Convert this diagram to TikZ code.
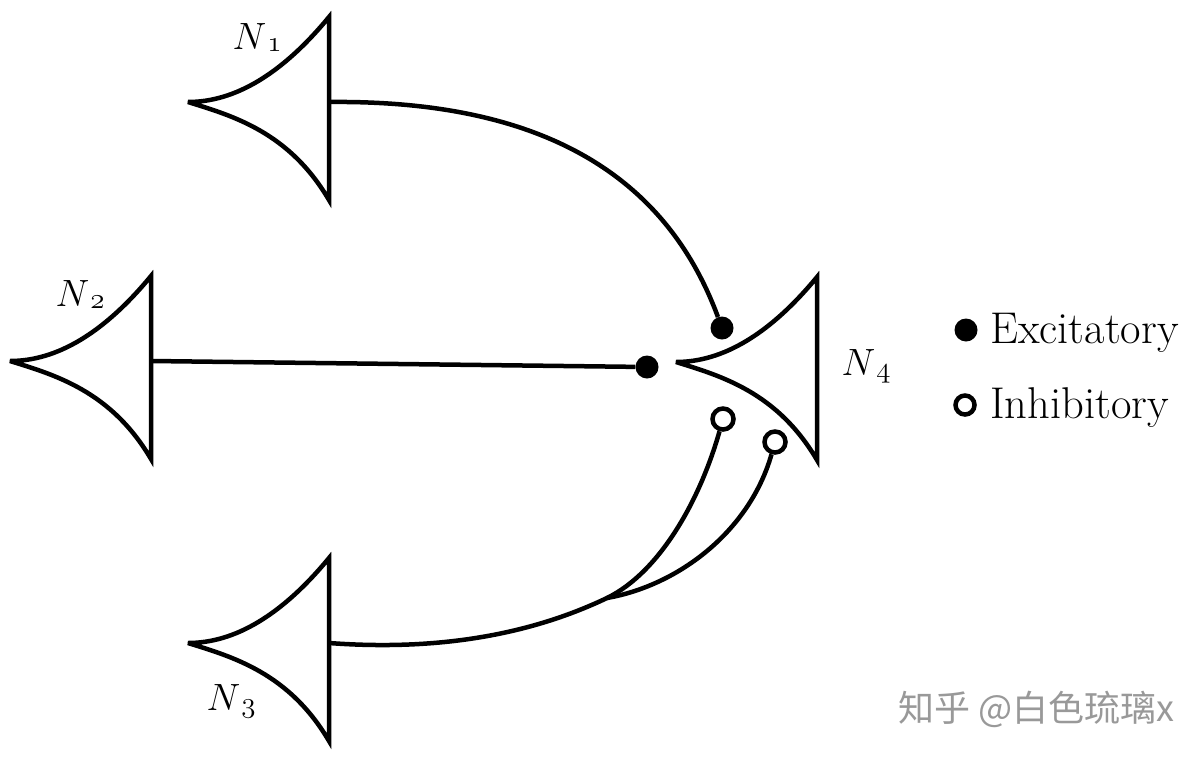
\documentclass[tikz,border=0pt]{standalone}
\usepackage{fix-cm}
\usepackage{fontspec}
\newfontfamily\cjkwm{Noto Sans CJK SC}
\newcommand\nlab[1]{$N$\kern1pt\raisebox{-2pt}{\fontsize{29}{32}\usefont{OML}{cmm}{m}{it}#1}}
\begin{document}
\begin{tikzpicture}[x=1pt,y=-1pt,
  neuronline/.style={line width=4.5pt, line join=miter, miter limit=4},
  conn/.style={line width=4.5pt},
  exc/.style={circle, fill=black, minimum size=23pt, inner sep=0pt},
  inh/.style={circle, draw=black, line width=4.5pt, fill=white, minimum size=21pt, inner sep=0pt},
  lbl/.style={font=\fontsize{38}{42}\selectfont, inner sep=0pt},
  legtext/.style={font=\fontsize{44.5}{50}\selectfont, inner sep=0pt, anchor=base west},
  neuron/.pic={
    \coordinate (-tip) at (0,0);
    \coordinate (-top) at (141,-85);
    \coordinate (-bot) at (141,98);
    \coordinate (-back) at (141,0);
    \draw[neuronline] (-tip) .. controls (47,0) and (94,-28) .. (-top)
                     -- (-bot) .. controls (101,30) and (45,14) .. cycle;
  }]
\useasboundingbox (0,0) rectangle (1204,758);

% neurons
\pic (N1) at (188,102) {neuron};
\pic (N2) at (10,361) {neuron};
\pic (N3) at (188,643) {neuron};
\pic (N4) at (676,362) {neuron};

% labels
\node[lbl] (l1) at (257,38) {\nlab{1}};
\node[lbl] (l2) at (80,295) {\nlab{2}};
\node[lbl] (l3) at (231,701) {\nlab{3}};
\node[lbl] (l4) at (866,366) {\nlab{4}};

% synapses
\node[exc] (d1) at (722,328) {};
\node[exc] (d2) at (647,367) {};
\node[inh] (c1) at (723,419) {};
\node[inh] (c2) at (775,442) {};
\coordinate (br) at (607,598);

% connectors
\draw[conn] (N1-back) .. controls (520,100) and (660,160) .. (d1);
\draw[conn] (N2-back) -- (d2);
\draw[conn] (N3-back) .. controls (450,652) and (540,630) .. (br)
                     .. controls (660,572) and (700,500) .. (c1);
\draw[conn] (br) .. controls (680,585) and (750,530) .. (c2);

% legend
\node[exc] (le) at (966,330) {};
\node[legtext] (lt1) at (990,343) {Excitatory};
\node[inh, minimum size=19pt] (li) at (965,405) {};
\node[legtext] (lt2) at (990,418) {Inhibitory};

% watermark
\node[font=\cjkwm\fontsize{36}{40}\selectfont, text=black!40, anchor=west, inner sep=0pt] (wm) at (898,709) {知乎 @白色琉璃x};
\end{tikzpicture}
\end{document}
